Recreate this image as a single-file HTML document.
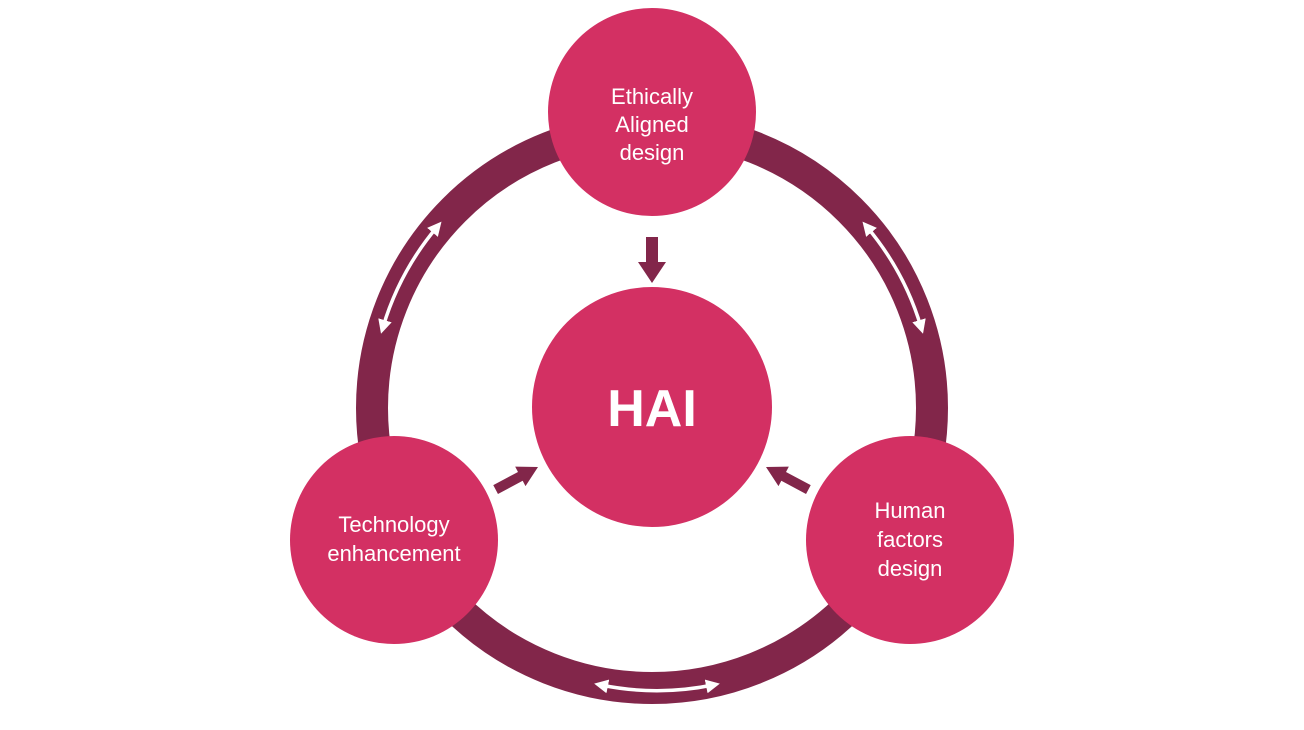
<!DOCTYPE html>
<html><head><meta charset="utf-8"><style>
html,body{margin:0;padding:0;background:#fff;}
svg{display:block;}
text{font-family:"Liberation Sans",sans-serif;fill:#fff;text-anchor:middle;}
</style></head><body>
<svg width="1304" height="730" viewBox="0 0 1304 730" xmlns="http://www.w3.org/2000/svg">
<defs>
<marker id="wa" viewBox="0 0 10 10" refX="5" refY="5" markerWidth="4" markerHeight="4" orient="auto-start-reverse" markerUnits="strokeWidth">
<path d="M0,0 L10,5 L0,10 Z" fill="#fff"/>
</marker>
</defs>
<circle cx="652" cy="408" r="280" fill="none" stroke="#82264a" stroke-width="32"/>
<g fill="none" stroke="#fff" stroke-width="3.5" marker-start="url(#wa)" marker-end="url(#wa)">
<path d="M383,327 A280,280 0 0 1 437,227"/>
<path d="M867,227 A280,280 0 0 1 921,327"/>
<path d="M713,685 A280,280 0 0 1 601,685"/>
</g>
<g fill="#82264a">
<path d="M646,237 H658 V262 H666 L652,283 L638,262 H646 Z"/>
<g transform="translate(538,467) rotate(152)"><path d="M0,0 L20,-11 L20,-5 L48,-5 L48,5 L20,5 L20,11 Z"/></g>
<g transform="translate(766,467) rotate(28)"><path d="M0,0 L20,-11 L20,-5 L48,-5 L48,5 L20,5 L20,11 Z"/></g>
</g>
<g fill="#d33063">
<circle cx="652" cy="112" r="104"/>
<circle cx="652" cy="407" r="120"/>
<circle cx="394" cy="540" r="104"/>
<circle cx="910" cy="540" r="104"/>
</g>
<text x="652" y="104" font-size="22">Ethically</text>
<text x="652" y="132" font-size="22">Aligned</text>
<text x="652" y="160" font-size="22">design</text>
<text x="652" y="426" font-size="52" font-weight="bold">HAI</text>
<text x="394" y="532" font-size="22">Technology</text>
<text x="394" y="561" font-size="22">enhancement</text>
<text x="910" y="518" font-size="22">Human</text>
<text x="910" y="547" font-size="22">factors</text>
<text x="910" y="576" font-size="22">design</text>
</svg>
</body></html>
